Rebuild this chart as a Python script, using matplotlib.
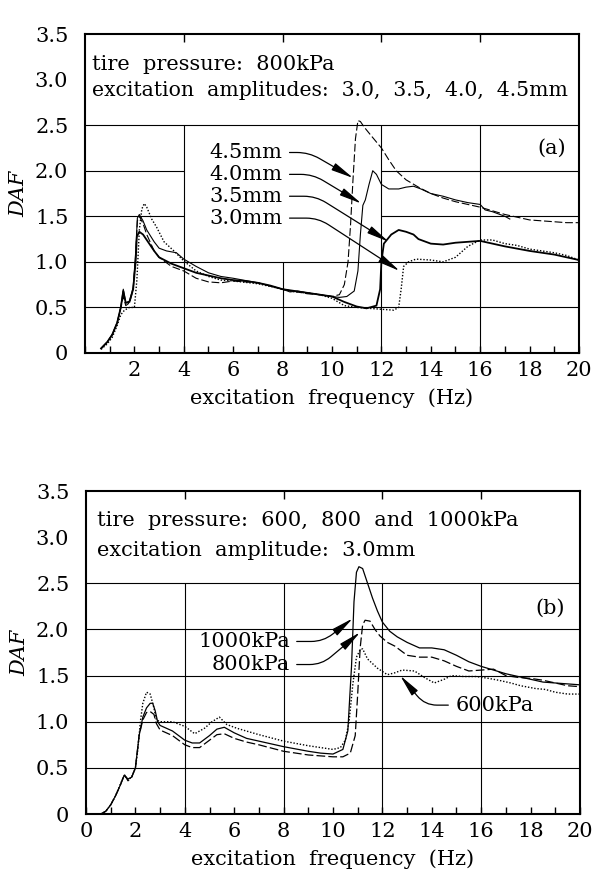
import matplotlib
matplotlib.use("Agg")
import matplotlib.pyplot as plt
import numpy as np

plt.rcParams["font.family"] = "DejaVu Serif"
plt.rcParams["font.size"] = 15

# (a) tire pressure 800kPa, four excitation amplitudes
A30_F = [0.65, 0.9, 1.1, 1.3, 1.45, 1.6, 1.8, 2.0, 2.1, 2.2, 2.3, 2.4, 2.5, 2.7, 2.9,
         3.2, 3.6, 4.0, 4.5, 5.0, 5.5, 6.0, 7.0, 8.0, 8.5, 9.0, 9.5, 10.0, 10.5, 11.0,
         11.5, 12.0, 12.5, 12.7, 12.8, 12.9, 13.1, 13.4, 14.0, 14.5, 15.0, 15.5, 16.0,
         16.5, 17.0, 17.5, 18.0, 18.5, 19.0, 19.5, 20.0]
A30_D = [0.04, 0.1, 0.17, 0.3, 0.42, 0.47, 0.5, 0.5, 0.8, 1.35, 1.58, 1.64, 1.6, 1.47, 1.38,
         1.22, 1.12, 1.01, 0.9, 0.84, 0.8, 0.79, 0.76, 0.7, 0.67, 0.66, 0.64, 0.6, 0.52, 0.5,
         0.49, 0.48, 0.47, 0.5, 0.7, 0.95, 1.0, 1.03, 1.02, 1.0, 1.05, 1.17, 1.24,
         1.24, 1.2, 1.18, 1.14, 1.12, 1.1, 1.07, 1.02]

A35_F = [0.65, 0.9, 1.1, 1.3, 1.45, 1.55, 1.65, 1.8, 1.95, 2.05, 2.1, 2.2, 2.35, 2.5, 2.8,
         3.0, 3.5, 4.0, 4.5, 5.0, 5.5, 6.0, 6.5, 7.0, 7.5, 8.0, 8.5, 9.0, 9.5, 10.0, 10.5,
         11.0, 11.4, 11.8, 11.95, 12.0, 12.1, 12.4, 12.7, 13.0, 13.3, 13.5, 14.0, 14.5,
         15.0, 16.0, 17.0, 18.0, 19.0, 20.0]
A35_D = [0.05, 0.12, 0.2, 0.33, 0.5, 0.68, 0.55, 0.56, 0.7, 1.0, 1.28, 1.33, 1.3, 1.24, 1.12,
         1.05, 0.98, 0.93, 0.88, 0.85, 0.82, 0.8, 0.79, 0.77, 0.74, 0.7, 0.68, 0.66, 0.64, 0.62, 0.56,
         0.51, 0.49, 0.52, 0.7, 1.0, 1.2, 1.3, 1.35, 1.33, 1.3, 1.25, 1.2, 1.19,
         1.21, 1.23, 1.17, 1.12, 1.08, 1.02]

A40_F = [0.65, 0.9, 1.1, 1.3, 1.45, 1.55, 1.65, 1.8, 1.95, 2.05, 2.12, 2.2, 2.35, 2.5, 2.8,
         3.0, 3.3, 3.7, 4.0, 4.5, 5.0, 5.5, 6.0, 7.0, 8.0, 8.3, 8.6, 9.0, 9.5, 10.0, 10.3,
         10.6, 10.9, 11.05, 11.15, 11.25, 11.35, 11.5, 11.65, 11.8, 12.0, 12.3, 12.7, 13.0,
         13.3, 13.6, 14.0, 14.5, 15.0, 15.5, 16.0, 16.2, 16.5, 17.0, 17.2]
A40_D = [0.05, 0.12, 0.2, 0.33, 0.5, 0.7, 0.55, 0.57, 0.72, 1.1, 1.48, 1.52, 1.45, 1.35, 1.22,
         1.15, 1.12, 1.1, 1.03, 0.95, 0.88, 0.84, 0.82, 0.77, 0.7, 0.67, 0.68, 0.66, 0.64, 0.62, 0.61,
         0.62, 0.68, 0.9, 1.3, 1.62, 1.68, 1.85, 2.0, 1.96, 1.85, 1.8, 1.8, 1.82,
         1.83, 1.8, 1.75, 1.72, 1.68, 1.65, 1.63, 1.57, 1.55, 1.5, 1.47]

A45_F = [0.65, 0.9, 1.1, 1.3, 1.45, 1.55, 1.65, 1.8, 1.95, 2.05, 2.12, 2.2, 2.35, 2.5, 2.8,
         3.0, 3.5, 4.0, 4.5, 5.0, 5.5, 6.0, 7.0, 8.0, 9.0, 9.5, 10.0, 10.3, 10.5, 10.65,
         10.75, 10.85, 10.95, 11.05, 11.15, 11.3, 11.6, 12.0, 12.3, 12.6, 13.0, 13.5, 14.0,
         14.5, 15.0, 15.5, 16.0, 16.5, 17.0, 17.5, 18.0, 18.5, 19.0, 19.5, 20.0]
A45_D = [0.05, 0.12, 0.2, 0.33, 0.5, 0.62, 0.52, 0.55, 0.7, 1.05, 1.45, 1.5, 1.42, 1.3, 1.12,
         1.05, 0.95, 0.9, 0.82, 0.78, 0.77, 0.79, 0.77, 0.7, 0.65, 0.64, 0.62, 0.64, 0.75, 1.0,
         1.4, 1.9, 2.35, 2.55, 2.54, 2.48, 2.38, 2.25, 2.12, 2.0, 1.9, 1.82, 1.75,
         1.7, 1.66, 1.63, 1.6, 1.56, 1.52, 1.49, 1.46, 1.45, 1.44, 1.43, 1.43]

# (b) excitation amplitude 3.0mm, three tire pressures
B1000_F = [0.6, 0.8, 1.0, 1.2, 1.4, 1.55, 1.7, 1.85, 2.0, 2.15, 2.3, 2.45, 2.6, 2.7, 2.8, 2.9,
           3.0, 3.5, 4.0, 4.3, 4.6, 5.0, 5.3, 5.6, 6.0, 6.5, 7.0, 8.0, 9.0, 9.5, 10.0, 10.4,
           10.6, 10.75, 10.85, 10.95, 11.05, 11.2, 11.4, 11.6, 11.8, 12.0, 12.3, 12.6, 13.0,
           13.5, 14.0, 14.5, 15.0, 15.5, 16.0, 16.5, 17.0, 17.5, 18.0, 18.5, 19.0, 19.5, 20.0]
B1000_D = [0.0, 0.03, 0.1, 0.2, 0.32, 0.42, 0.38, 0.4, 0.5, 0.85, 1.05, 1.15, 1.2, 1.2, 1.12, 1.0,
           0.96, 0.9, 0.8, 0.77, 0.77, 0.85, 0.92, 0.94, 0.88, 0.82, 0.79, 0.73, 0.68, 0.66, 0.65, 0.7,
           0.9, 1.6, 2.3, 2.62, 2.68, 2.66, 2.5, 2.34, 2.2, 2.08, 1.98, 1.92, 1.86,
           1.8, 1.8, 1.78, 1.72, 1.65, 1.6, 1.56, 1.52, 1.49, 1.46, 1.43, 1.42, 1.41, 1.4]

B800_F = [0.6, 0.8, 1.0, 1.2, 1.4, 1.55, 1.7, 1.85, 2.0, 2.15, 2.3, 2.45, 2.6, 2.75, 2.85, 3.0,
          3.5, 4.0, 4.3, 4.6, 5.0, 5.3, 5.6, 6.0, 6.5, 7.0, 8.0, 9.0, 9.5, 10.0, 10.4, 10.7,
          10.9, 11.0, 11.1, 11.2, 11.3, 11.5, 11.7, 11.9, 12.2, 12.5, 13.0, 13.5, 14.0, 14.5,
          15.0, 15.5, 16.0, 16.5, 17.0, 17.5, 18.0, 18.5, 19.0, 19.5, 20.0]
B800_D = [0.0, 0.03, 0.1, 0.2, 0.32, 0.43, 0.36, 0.4, 0.5, 0.85, 1.02, 1.1, 1.11, 1.08, 0.98, 0.91,
          0.85, 0.75, 0.72, 0.72, 0.8, 0.86, 0.87, 0.82, 0.78, 0.75, 0.68, 0.64, 0.63, 0.62, 0.62, 0.66,
          0.85, 1.3, 1.8, 2.05, 2.1, 2.09, 2.0, 1.93, 1.86, 1.82, 1.72, 1.7, 1.7, 1.66,
          1.6, 1.55, 1.56, 1.57, 1.5, 1.48, 1.47, 1.45, 1.42, 1.39, 1.38]

B600_F = [0.6, 0.8, 1.0, 1.2, 1.4, 1.55, 1.7, 1.85, 2.0, 2.1, 2.2, 2.3, 2.45, 2.6, 2.75, 2.85,
          3.0, 3.5, 4.0, 4.4, 4.8, 5.1, 5.4, 5.7, 6.1, 7.0, 8.0, 9.0, 10.0, 10.3, 10.5, 10.65,
          10.8, 10.95, 11.1, 11.2, 11.4, 11.8, 12.2, 12.5, 12.8, 13.3, 13.7, 14.1, 14.5, 14.8,
          15.3, 15.8, 16.3, 16.7, 17.2, 17.6, 18.2, 18.6, 19.0, 19.5, 20.0]
B600_D = [0.0, 0.03, 0.1, 0.2, 0.33, 0.42, 0.37, 0.4, 0.5, 0.7, 1.0, 1.2, 1.32, 1.3, 1.15, 1.02,
          1.0, 1.0, 0.95, 0.87, 0.93, 1.0, 1.05, 0.97, 0.93, 0.86, 0.79, 0.74, 0.7, 0.72, 0.8, 1.0,
          1.4, 1.7, 1.78, 1.79, 1.68, 1.58, 1.51, 1.53, 1.56, 1.55, 1.48, 1.42, 1.46, 1.5,
          1.49, 1.49, 1.47, 1.45, 1.42, 1.39, 1.36, 1.35, 1.32, 1.3, 1.3]

Y_TICKS = [0, 0.5, 1.0, 1.5, 2.0, 2.5, 3.0, 3.5]
X_TICKS = [0, 2, 4, 6, 8, 10, 12, 14, 16, 18, 20]

SOLID = "-"
DASH = (0, (7, 2.5))
DOT = (0, (1, 1.3))


def frame(ax, show_zero, gap=None):
    ax.set_xlim(0, 20)
    ax.set_ylim(0, 3.5)
    for s in ax.spines.values():
        s.set_linewidth(1.5)
    ax.set_yticks(Y_TICKS)
    ax.set_yticklabels(["0" if v == 0 else "%.1f" % v for v in Y_TICKS])
    ax.set_xticks(X_TICKS)
    ax.set_xticklabels([str(v) if (v or show_zero) else "" for v in X_TICKS])
    ax.set_xticks(np.arange(1, 20, 2), minor=True)
    ax.tick_params(axis="y", length=0, pad=12)
    ax.tick_params(axis="x", which="both", direction="in", length=5, width=1, pad=6)
    # grid only below 2.5, top ticks at the gridline positions
    kw = dict(color="k", lw=0.8, zorder=1)
    for y in [0.5, 1.0, 1.5, 2.0, 2.5]:
        if gap and gap[1] < y < gap[3]:
            ax.hlines(y, 0, gap[0], **kw)
            ax.hlines(y, gap[2], 20, **kw)
        else:
            ax.hlines(y, 0, 20, **kw)
    for x in [4, 8, 12, 16]:
        if gap and gap[0] < x < gap[2]:
            ax.vlines(x, 0, gap[1], **kw)
        else:
            ax.vlines(x, 0, 2.5, **kw)
    ax.vlines([4, 8, 12, 16], 0.975, 1.0, transform=ax.get_xaxis_transform(),
              color="k", lw=1)
    ax.set_xlabel("excitation  frequency  (Hz)", labelpad=6)
    ax.set_ylabel("DAF", style="italic", labelpad=5)


def label(ax, txt, tip, pos, ha, angle):
    ax.annotate(txt, xy=tip, xytext=pos, ha=ha, va="center",
                arrowprops=dict(arrowstyle="-|>,head_length=0.9,head_width=0.16",
                                connectionstyle="angle,angleA=0,angleB=%g,rad=12" % angle,
                                color="k", lw=0.9, shrinkA=3, shrinkB=0,
                                relpos=(1 if ha == "right" else 0, 0.5)),
                zorder=4)


fig = plt.figure(figsize=(5.94, 8.77), dpi=100)
ax1 = fig.add_axes([0.1431, 0.5975, 0.8316, 0.3637])
ax2 = fig.add_axes([0.1448, 0.0718, 0.8316, 0.3683])

# panel (a)
frame(ax1, False, gap=(4, 1.0, 12, 2.5))
ax1.plot(A30_F, A30_D, color="k", lw=1.0, ls=DOT, zorder=3)
ax1.plot(A35_F, A35_D, color="k", lw=1.3, ls=SOLID, zorder=3)
ax1.plot(A40_F, A40_D, color="k", lw=0.8, ls=SOLID, zorder=3)
ax1.plot(A45_F, A45_D, color="k", lw=0.8, ls=DASH, zorder=3)
ax1.text(0.3, 3.17, "tire  pressure:  800kPa", ha="left", va="center")
ax1.text(0.3, 2.88, "excitation  amplitudes:  3.0,  3.5,  4.0,  4.5mm",
         ha="left", va="center", fontsize=14.7)
ax1.text(18.9, 2.25, "(a)", ha="center", va="center")
label(ax1, "4.5mm", (10.86, 1.92), (8.0, 2.2), "right", -30)
label(ax1, "4.0mm", (11.19, 1.64), (8.0, 1.96), "right", -31)
label(ax1, "3.5mm", (12.3, 1.22), (8.0, 1.72), "right", -32)
label(ax1, "3.0mm", (12.74, 0.9), (8.0, 1.48), "right", -33)

# panel (b)
frame(ax2, True)
ax2.plot(B600_F, B600_D, color="k", lw=1.0, ls=DOT, zorder=3)
ax2.plot(B800_F, B800_D, color="k", lw=0.9, ls=DASH, zorder=3)
ax2.plot(B1000_F, B1000_D, color="k", lw=0.9, ls=SOLID, zorder=3)
ax2.text(0.45, 3.18, "tire  pressure:  600,  800  and  1000kPa", ha="left", va="center")
ax2.text(0.45, 2.86, "excitation  amplitude:  3.0mm", ha="left", va="center")
ax2.text(18.8, 2.23, "(b)", ha="center", va="center")
label(ax2, "1000kPa", (10.8, 2.12), (8.25, 1.87), "right", 38)
label(ax2, "800kPa", (11.1, 1.97), (8.25, 1.62), "right", 40)
label(ax2, "600kPa", (12.72, 1.5), (14.95, 1.18), "left", 130)

fig.savefig("out.png", dpi=100)
